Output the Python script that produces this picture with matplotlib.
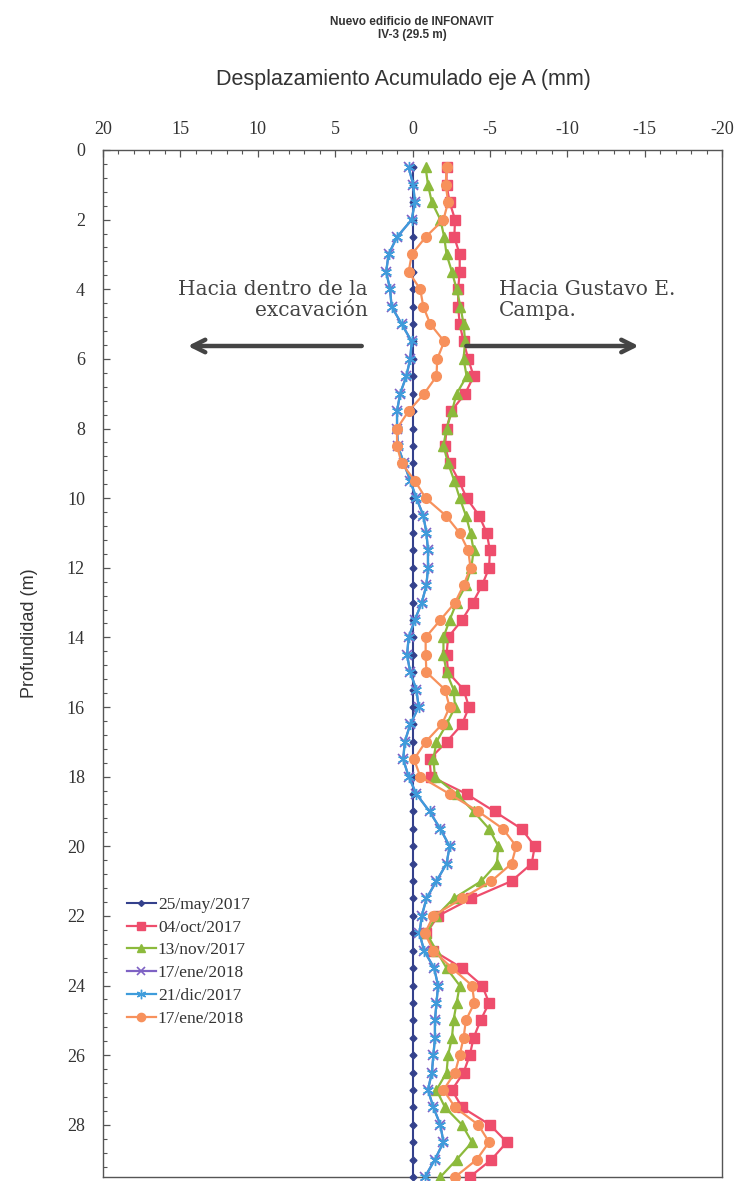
import matplotlib
matplotlib.use("Agg")
import matplotlib.pyplot as plt
from matplotlib.ticker import MultipleLocator

plt.rcParams['axes.unicode_minus'] = False

# ---------------- data ----------------
depth = [0.5, 1.0, 1.5, 2.0, 2.5, 3.0, 3.5, 4.0, 4.5, 5.0,
         5.5, 6.0, 6.5, 7.0, 7.5, 8.0, 8.5, 9.0, 9.5, 10.0,
         10.5, 11.0, 11.5, 12.0, 12.5, 13.0, 13.5, 14.0, 14.5, 15.0,
         15.5, 16.0, 16.5, 17.0, 17.5, 18.0, 18.5, 19.0, 19.5, 20.0,
         20.5, 21.0, 21.5, 22.0, 22.5, 23.0, 23.5, 24.0, 24.5, 25.0,
         25.5, 26.0, 26.5, 27.0, 27.5, 28.0, 28.5, 29.0, 29.5]

may_2017 = [0.0] * 59

oct_2017 = [-2.2, -2.2, -2.4, -2.75, -2.7, -3.05, -3.05, -2.95, -2.95, -3.05,
            -3.3, -3.6, -3.95, -3.4, -2.5, -2.2, -2.1, -2.4, -3.0, -3.5,
            -4.3, -4.8, -5.0, -4.95, -4.5, -3.9, -3.2, -2.3, -2.2, -2.3,
            -3.3, -3.65, -3.2, -2.2, -1.1, -1.2, -3.5, -5.3, -7.05, -7.9,
            -7.7, -6.4, -3.8, -1.65, -0.9, -1.35, -3.2, -4.5, -4.95, -4.4,
            -3.95, -3.7, -3.3, -2.55, -3.2, -5.0, -6.1, -5.1, -3.7]

nov_2017 = [-0.85, -1.0, -1.25, -1.8, -2.05, -2.2, -2.55, -2.85, -3.1, -3.3,
            -3.4, -3.3, -3.5, -2.85, -2.55, -2.2, -2.0, -2.3, -2.7, -3.05,
            -3.45, -3.75, -3.95, -3.8, -3.45, -2.85, -2.4, -2.0, -2.0, -2.2,
            -2.65, -2.75, -2.2, -1.55, -1.35, -1.45, -2.85, -3.95, -4.95, -5.55,
            -5.45, -4.45, -2.65, -1.55, -0.9, -1.55, -2.2, -3.05, -2.85, -2.65,
            -2.55, -2.3, -2.2, -1.55, -2.1, -3.2, -3.85, -2.85, -1.8]

dic_2017 = [0.25, -0.05, -0.15, 0.05, 1.0, 1.55, 1.7, 1.45, 1.35, 0.7,
            0.05, 0.15, 0.4, 0.8, 1.0, 1.0, 0.95, 0.55, 0.15, -0.25,
            -0.7, -0.9, -1.0, -1.0, -0.9, -0.6, -0.15, 0.25, 0.35, 0.15,
            -0.25, -0.4, 0.15, 0.5, 0.6, 0.25, -0.25, -1.1, -1.8, -2.4,
            -2.2, -1.55, -0.9, -0.6, -0.45, -0.75, -1.4, -1.65, -1.55, -1.45,
            -1.45, -1.35, -1.25, -1.0, -1.35, -1.8, -2.0, -1.45, -0.8]

# purple series is not visible in the picture: it lies under the 21/dic/2017 curve
ene_2018_a = list(dic_2017)

ene_2018_b = [-2.2, -2.15, -2.3, -2.0, -0.85, 0.05, 0.25, -0.5, -0.7, -1.15,
              -2.05, -1.6, -1.55, -0.75, 0.25, 1.0, 1.0, 0.7, -0.15, -0.85,
              -2.15, -3.05, -3.6, -3.75, -3.3, -2.75, -1.8, -0.85, -0.85, -0.9,
              -2.1, -2.4, -1.9, -0.85, -0.1, -0.5, -2.4, -4.25, -5.85, -6.7,
              -6.4, -5.1, -3.2, -1.35, -0.8, -1.35, -2.55, -3.85, -4.0, -3.45,
              -3.3, -3.05, -2.75, -2.0, -2.75, -4.25, -4.95, -4.15, -2.75]

series_labels = ['25/may/2017', '04/oct/2017', '13/nov/2017',
                 '17/ene/2018', '21/dic/2017', '17/ene/2018']

x_ticks = [20, 15, 10, 5, 0, -5, -10, -15, -20]
x_tick_labels = ['20', '15', '10', '5', '0', '-5', '-10', '-15', '-20']
y_ticks = [0, 2, 4, 6, 8, 10, 12, 14, 16, 18, 20, 22, 24, 26, 28]

# ---------------- figure ----------------
W, H = 737, 1181
fig = plt.figure(figsize=(W / 100, H / 100), dpi=100)
fig.patch.set_facecolor('white')

ax_l, ax_r, ax_t, ax_b = 103, 722, 150, 1177
ax = fig.add_axes([ax_l / W, 1 - ax_b / H, (ax_r - ax_l) / W, (ax_b - ax_t) / H])

serif = ['Liberation Serif', 'DejaVu Serif']
sans = ['Liberation Sans', 'DejaVu Sans']

styles = [
    dict(color='#34418C', marker='D', ms=3.5, lw=1.5),
    dict(color='#EE4D6C', marker='s', ms=7, lw=1.6),
    dict(color='#8CBA3C', marker='^', ms=7, lw=1.6),
    dict(color='#7E62C4', marker='x', ms=7, lw=1.6, mew=1.2),
    dict(color='#3E9CDB', marker=(6, 2, 0), ms=8, lw=1.6, mew=1.0),
    dict(color='#F7915C', marker='o', ms=7, lw=1.6),
]
data = [may_2017, oct_2017, nov_2017, ene_2018_a, dic_2017, ene_2018_b]

for vals, lab, st in zip(data, series_labels, styles):
    ax.plot(vals, depth, label=lab, clip_on=False, zorder=3, **st)

ax.set_xlim(20, -20)
ax.set_ylim(29.5, 0)

ax.xaxis.tick_top()
ax.set_xticks(x_ticks)
ax.set_xticklabels(x_tick_labels)
ax.set_yticks(y_ticks)
ax.xaxis.set_minor_locator(MultipleLocator(1))
ax.yaxis.set_minor_locator(MultipleLocator(0.4))
ax.tick_params(which='both', direction='in', top=True, bottom=False,
               left=True, right=False, colors='#555555')
ax.tick_params(which='major', length=5, width=0.9)
ax.tick_params(which='minor', length=3, width=0.8)
ax.tick_params(axis='x', which='major', pad=9, labelsize=13, labelcolor='#333333')
ax.tick_params(axis='y', which='major', pad=13, labelsize=13, labelcolor='#333333')
for lab in ax.get_xticklabels() + ax.get_yticklabels():
    lab.set_family(serif)
for sp in ax.spines.values():
    sp.set_color('#555555')
    sp.set_linewidth(1.0)

# titles
fig.text(412 / W, 1 - 22 / H, 'Nuevo edificio de INFONAVIT', ha='center', va='center',
         fontsize=8.5, fontweight='bold', family=sans, color='#333333')
fig.text(412 / W, 1 - 35 / H, 'IV-3 (29.5 m)', ha='center', va='center',
         fontsize=8.5, fontweight='bold', family=sans, color='#333333')
fig.text(403 / W, 1 - 79 / H, 'Desplazamiento Acumulado eje A (mm)', ha='center',
         va='center', fontsize=15.5, family=sans, color='#333333')
fig.text(30 / W, 1 - 633 / H, 'Profundidad (m)', ha='center', va='center',
         rotation=90, fontsize=13, family=sans, color='#333333')

# annotations
ax.text(2.9, 4.3, 'Hacia dentro de la\nexcavación', ha='right', va='center',
        fontsize=14.5, family=['DejaVu Serif'], color='#444444', linespacing=1.15)
ax.text(-5.6, 4.3, 'Hacia Gustavo E.\nCampa.', ha='left', va='center',
        fontsize=14.5, family=['DejaVu Serif'], color='#444444', linespacing=1.15)
arrow_kw = dict(arrowstyle='->,head_length=0.9,head_width=0.45', lw=3.2, color='#444444')
ax.annotate('', xy=(14.7, 5.63), xytext=(3.1, 5.63), arrowprops=arrow_kw)
ax.annotate('', xy=(-14.8, 5.63), xytext=(-3.3, 5.63), arrowprops=arrow_kw)

# legend
leg = ax.legend(loc='upper left', bbox_to_anchor=(118 / W, 1 - 888 / H),
                bbox_transform=fig.transFigure, frameon=False,
                prop={'family': serif, 'size': 12.5}, handlelength=1.7,
                handletextpad=0.1, labelspacing=0.38, borderpad=0)
for t in leg.get_texts():
    t.set_color('#333333')
for h in leg.legend_handles:
    h.set_markersize(h.get_markersize() * 0.85)

fig.savefig('out.png', dpi=100)
